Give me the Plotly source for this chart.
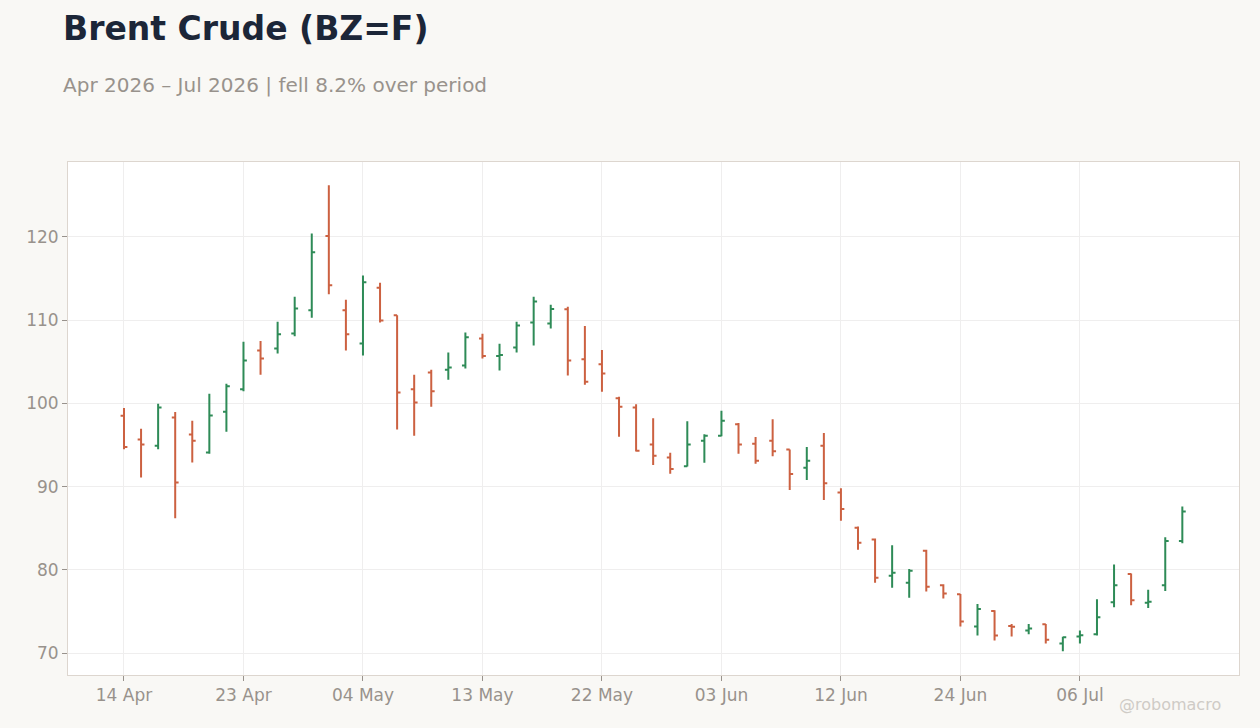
import plotly.graph_objects as go
import pandas as pd

dates = ["2026-04-14","2026-04-15","2026-04-16","2026-04-17","2026-04-20","2026-04-21","2026-04-22",
         "2026-04-23","2026-04-24","2026-04-27","2026-04-28","2026-04-29","2026-04-30","2026-05-01",
         "2026-05-04","2026-05-05","2026-05-06","2026-05-07","2026-05-08","2026-05-11","2026-05-12",
         "2026-05-13","2026-05-14","2026-05-15","2026-05-18","2026-05-19","2026-05-20","2026-05-21",
         "2026-05-22","2026-05-26","2026-05-27","2026-05-28","2026-05-29","2026-06-01","2026-06-02",
         "2026-06-03","2026-06-04","2026-06-05","2026-06-08","2026-06-09","2026-06-10","2026-06-11",
         "2026-06-12","2026-06-15","2026-06-16","2026-06-17","2026-06-18","2026-06-22","2026-06-23",
         "2026-06-24","2026-06-25","2026-06-26","2026-06-29","2026-06-30","2026-07-01","2026-07-02",
         "2026-07-06","2026-07-07","2026-07-08","2026-07-09","2026-07-10","2026-07-13","2026-07-14"]

open_ = [98.5, 95.65, 94.9, 98.3, 96.25, 94.1, 99.0, 101.7, 106.35, 106.6, 108.4, 111.2, 120.1, 111.2,
         107.2, 113.9, 110.6, 101.7, 103.7, 104.05, 104.55, 107.8, 105.7, 106.7, 109.7, 109.6, 111.3,
         105.3, 104.7, 100.6, 99.5, 95.05, 93.5, 92.45, 95.5, 96.1, 97.5, 95.15, 95.5, 94.45, 92.25,
         94.9, 89.3, 85.05, 83.65, 79.3, 78.45, 82.3, 78.15, 77.05, 73.2, 75.05, 73.25, 72.7, 73.45,
         71.15, 72.0, 72.25, 76.1, 79.5, 76.05, 78.15, 83.45]
high_ = [99.45, 96.95, 99.95, 98.95, 97.9, 101.15, 102.35, 107.4, 107.5, 109.8, 112.8, 120.4, 126.2, 112.45,
         115.35, 114.5, 110.6, 103.45, 104.05, 106.1, 108.5, 108.35, 107.15, 109.8, 112.8, 111.85, 111.6,
         109.3, 106.4, 100.8, 99.9, 98.2, 94.05, 97.85, 96.3, 99.1, 97.65, 95.95, 98.1, 94.45, 94.75,
         96.45, 89.8, 85.2, 83.75, 82.95, 80.1, 82.4, 78.25, 77.1, 75.9, 75.15, 73.5, 73.5, 73.5,
         71.95, 72.7, 76.45, 80.65, 79.55, 77.6, 83.9, 87.6]
low_ = [94.5, 91.1, 94.5, 86.2, 92.9, 93.95, 96.6, 101.45, 103.45, 106.0, 108.05, 110.3, 113.1, 106.35,
        105.75, 109.7, 96.85, 96.1, 99.6, 102.85, 104.2, 105.4, 103.95, 106.1, 106.95, 109.0, 103.35,
        102.25, 101.4, 96.0, 94.2, 92.6, 91.55, 92.4, 92.85, 96.05, 93.95, 92.75, 93.65, 89.6, 90.8,
        88.4, 85.9, 82.4, 78.45, 77.85, 76.65, 77.4, 76.55, 73.2, 72.1, 71.5, 72.0, 72.25, 71.15,
        70.2, 71.15, 72.1, 75.5, 75.75, 75.4, 77.45, 83.2]
close_ = [94.75, 95.05, 99.5, 90.5, 95.5, 98.55, 102.05, 105.15, 105.4, 108.3, 111.4, 118.15, 114.2, 108.3,
          114.55, 109.95, 101.3, 100.1, 101.45, 104.3, 107.95, 105.7, 105.8, 109.35, 112.25, 111.35, 105.15,
          102.6, 103.6, 99.6, 94.3, 93.7, 92.1, 95.05, 96.1, 97.9, 95.05, 93.1, 94.25, 91.5, 93.1,
          90.4, 87.3, 83.25, 79.05, 79.65, 79.9, 77.95, 77.15, 73.8, 75.3, 72.1, 73.15, 72.95, 71.6,
          71.9, 72.15, 74.3, 78.15, 76.35, 76.15, 83.45, 87.0]

tick_every = 7
title_text = "Brent Crude (BZ=F)"
watermark = "@robomacro"

dt = pd.to_datetime(dates)
tickvals = dates[::tick_every]
ticktext = [d.strftime("%d %b") for d in dt[::tick_every]]
chg = (close_[-1] / close_[0] - 1) * 100
subtitle = f"{dt[0].strftime('%b %Y')} – {dt[-1].strftime('%b %Y')} | {'fell' if chg < 0 else 'rose'} {abs(chg):.1f}% over period"

GREEN = "#2e8b57"
RED = "#cc6141"
GRAY = "#98928c"
BG = "#f9f8f5"

fig = go.Figure(go.Ohlc(
    x=dates, open=open_, high=high_, low=low_, close=close_,
    increasing=dict(line=dict(color=GREEN, width=2)),
    decreasing=dict(line=dict(color=RED, width=2)),
    tickwidth=0.2,
    showlegend=False,
))

fig.update_layout(
    width=1260, height=728,
    paper_bgcolor=BG,
    plot_bgcolor="#ffffff",
    margin=dict(l=68, r=21, t=162, b=53),
    font=dict(family="DejaVu Sans", color=GRAY, size=17),
    annotations=[
        dict(text=f"<b>{title_text}</b>", xref="paper", yref="paper", x=-0.0060, y=(675 - 29) / 513,
             xanchor="left", yanchor="middle", showarrow=False,
             font=dict(size=33, color="#1c2638", family="DejaVu Sans")),
        dict(text=subtitle, xref="paper", yref="paper", x=-0.0060, y=(675 - 85) / 513,
             xanchor="left", yanchor="middle", showarrow=False,
             font=dict(size=20, color=GRAY, family="DejaVu Sans")),
        dict(text=watermark, xref="paper", yref="paper", x=(1223 - 68) / 1171, y=(675 - 705) / 513,
             xanchor="right", yanchor="middle", showarrow=False,
             font=dict(size=16, color="#cfcbc6", family="DejaVu Sans")),
    ],
)

fig.update_xaxes(
    type="category",
    range=[-3.28, 65.32],
    tickvals=tickvals, ticktext=ticktext,
    showgrid=True, gridcolor="#efeeee", gridwidth=1,
    showline=True, linecolor="#ddd6cf", linewidth=1, mirror=True,
    ticks="outside", ticklen=5, tickcolor=GRAY,
    tickfont=dict(size=17, color=GRAY),
    rangeslider=dict(visible=False),
)
fig.update_yaxes(
    range=[67.36, 129.0],
    tickvals=[70, 80, 90, 100, 110, 120],
    showgrid=True, gridcolor="#efeeee", gridwidth=1,
    showline=True, linecolor="#ddd6cf", linewidth=1, mirror=True,
    ticks="outside", ticklen=5, tickcolor=GRAY,
    tickfont=dict(size=17, color=GRAY),
    zeroline=False,
)

fig.write_html(
    "out.html",
    config={"displayModeBar": False},
    post_script=(
        "document.body.style.margin='0';"
        "document.body.style.overflow='hidden';"
        f"document.body.style.background='{BG}';"
    ),
)
